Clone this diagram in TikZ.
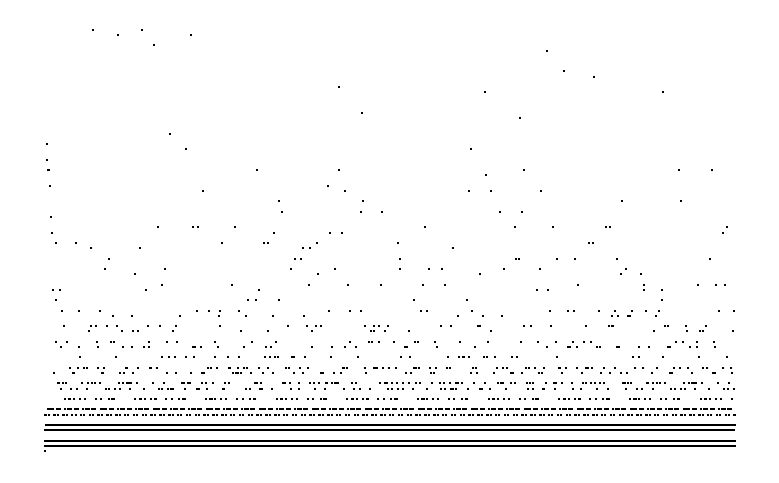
\documentclass[tikz,border=0pt]{standalone}
\newcount\cnN
\newcount\cnCur
\newcount\cnSteps
\newdimen\dmX
\newdimen\dmY
% stopping time of n under T(n) = n/2 (n even), (3n+1)/2 (n odd)
\def\stoptime{%
  \ifnum\cnN=1 \cnSteps=0 \else
    \cnCur=\cnN \cnSteps=0
    \stoploop
  \fi}
\def\stoploop{%
  \ifodd\cnCur \cnCur=\numexpr(3*\cnCur+1)/2\relax
  \else \cnCur=\numexpr\cnCur/2\relax \fi
  \advance\cnSteps by 1
  \ifnum\cnCur<\cnN \else \expandafter\stoploop \fi}
\def\plotloop{%
  \stoptime
  \dmX=\dimexpr 44pt + 690pt*\numexpr\cnN-1\relax/9999\relax
  \dmY=\dimexpr 30pt + 5.2pt*\cnSteps\relax
  \pgfpathrectangle{\pgfqpoint{\dmX}{\dmY}}{\pgfqpoint{2pt}{2pt}}%
  \pgfusepath{fill}%
  \advance\cnN by 1
  \ifnum\cnN>10000 \else\expandafter\plotloop\fi}
\begin{document}
\begin{tikzpicture}[x=1pt,y=1pt]
  \fill[white] (0,0) rectangle (779,482);
  \useasboundingbox (0,0) rectangle (779,482);
  \fill[black]
  \pgfextra{\cnN=1 \plotloop};
\end{tikzpicture}
\end{document}
